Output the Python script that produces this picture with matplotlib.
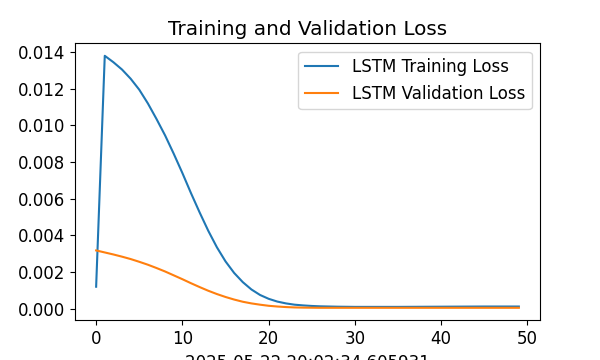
import matplotlib
matplotlib.use("Agg")
import matplotlib.pyplot as plt

plt.rcParams["font.size"] = 12

epochs = list(range(50))
train_loss = [
    0.00120, 0.01380, 0.01345, 0.01305, 0.01255, 0.01195, 0.01120, 0.01035,
    0.00945, 0.00845, 0.00740, 0.00630, 0.00525, 0.00425, 0.00335, 0.00258,
    0.00195, 0.00145, 0.00105, 0.00075, 0.00054, 0.00039, 0.00029, 0.00022,
    0.00018, 0.00015, 0.00013, 0.00012, 0.00011, 0.000105, 0.00010, 0.00010,
    0.00010, 0.00010, 0.00010, 0.00010, 0.000102, 0.000104, 0.000106, 0.000108,
    0.00011, 0.000112, 0.000114, 0.000116, 0.000118, 0.00012, 0.00012, 0.00012,
    0.00012, 0.00012,
]
val_loss = [
    0.00318, 0.00307, 0.00296, 0.00284, 0.00271, 0.00256, 0.00240, 0.00222,
    0.00203, 0.00182, 0.00161, 0.00139, 0.00118, 0.00098, 0.00080, 0.00064,
    0.00050, 0.00038, 0.00029, 0.00022, 0.00016, 0.00012, 0.00009, 0.00007,
    0.00006, 0.000055, 0.00005, 0.00005, 0.00005, 0.00005, 0.00005, 0.00005,
    0.00005, 0.00005, 0.00005, 0.00005, 0.00005, 0.00005, 0.00005, 0.00005,
    0.00005, 0.00005, 0.00005, 0.00005, 0.00005, 0.00005, 0.00005, 0.00005,
    0.00005, 0.00005,
]
title = "Training and Validation Loss"
xlabel = "2025-05-22 20:02:34.605931"
labels = ["LSTM Training Loss", "LSTM Validation Loss"]

fig, ax = plt.subplots(figsize=(6, 3.6), dpi=100)
ax.plot(epochs, train_loss, label=labels[0])
ax.plot(epochs, val_loss, label=labels[1])
ax.set_title(title)
ax.set_xlabel(xlabel)
ax.legend(loc="upper right")
fig.savefig("out.png", dpi=100)
